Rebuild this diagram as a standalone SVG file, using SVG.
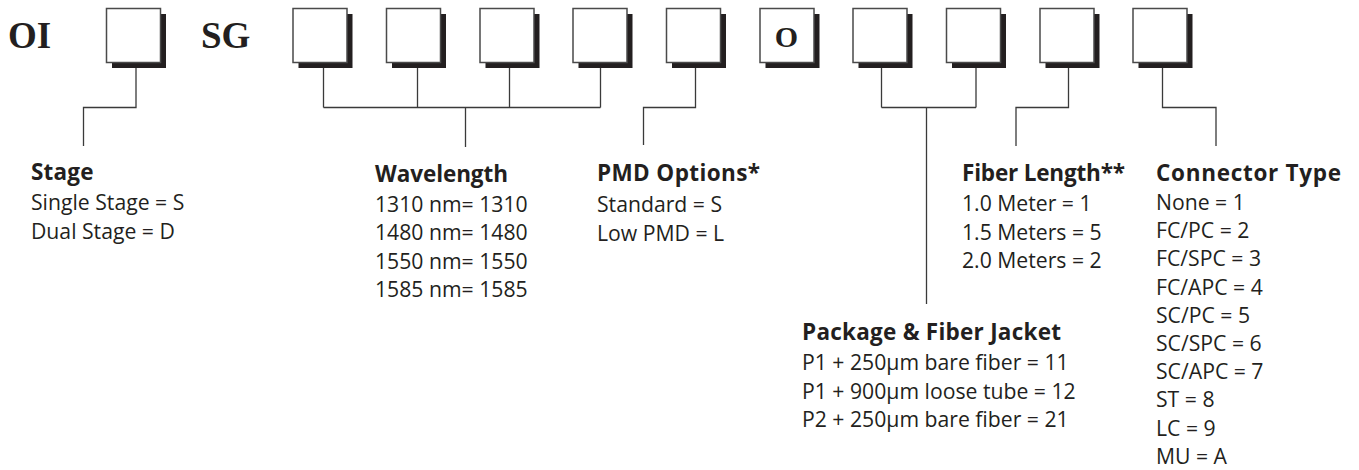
<svg xmlns="http://www.w3.org/2000/svg" width="1359" height="470" viewBox="0 0 1359 470">
<style>
.bg{fill:#ffffff}
.box{fill:#ffffff;stroke:#4a4a4a;stroke-width:1.5}
.sh{fill:#231f20}
.ln{fill:none;stroke:#3a3a3a;stroke-width:1.3}
.title{font-family:"Liberation Serif",serif;font-weight:bold;font-size:37px;fill:#231f20}
.bt{font-family:"Liberation Serif",serif;font-weight:bold;font-size:30px;fill:#231f20}
.h{font-family:"Open Sans","Noto Sans",sans-serif;font-weight:bold;font-size:22.5px;fill:#231f20}
.t{font-family:"Open Sans","Noto Sans",sans-serif;font-size:21.2px;fill:#231f20}
</style>
<defs>
<g id="bx">
<rect class="sh" x="5.5" y="5.5" width="54" height="54"/>
<rect class="box" x="0" y="0" width="54" height="54"/>
</g>
</defs>
<rect class="bg" x="0" y="0" width="1359" height="470"/>
<g id="labels">
<text class="title" x="8" y="48">OI</text>
<text class="title" x="201" y="48">SG</text>
</g>
<g id="box1"><use href="#bx" x="106.5" y="8.5"/></g>
<g id="box2"><use href="#bx" x="293" y="8.5"/></g>
<g id="box3"><use href="#bx" x="386.5" y="8.5"/></g>
<g id="box4"><use href="#bx" x="480" y="8.5"/></g>
<g id="box5"><use href="#bx" x="573" y="8.5"/></g>
<g id="box6"><use href="#bx" x="666.5" y="8.5"/></g>
<g id="box7"><use href="#bx" x="760" y="8.5"/><text class="bt" x="786.5" y="46.5" text-anchor="middle">O</text></g>
<g id="box8"><use href="#bx" x="853" y="8.5"/></g>
<g id="box9"><use href="#bx" x="946.5" y="8.5"/></g>
<g id="box10"><use href="#bx" x="1040" y="8.5"/></g>
<g id="box11"><use href="#bx" x="1133" y="8.5"/></g>
<g id="connectors">
<path class="ln" d="M136 68V107.5H83.5V146"/>
<path class="ln" d="M323.5 68V107.5M417.5 68V107.5M509.5 68V107.5M600.5 68V107.5M323.5 107.5H600.5M465.5 107.5V147"/>
<path class="ln" d="M695.5 68V107.5H643.5V145"/>
<path class="ln" d="M881.5 68V107.5M976 68V107.5M881.5 107.5H976M926.5 107.5V304"/>
<path class="ln" d="M1068.5 68V107.5H1016V146"/>
<path class="ln" d="M1162.5 68V107.5H1216V146"/>
</g>
<g id="stage">
<text class="h" x="31" y="180" textLength="62.5">Stage</text>
<text class="t" x="31" y="210">Single Stage = S</text>
<text class="t" x="31" y="239">Dual Stage = D</text>
</g>
<g id="wavelength">
<text class="h" x="375" y="181.5" textLength="133">Wavelength</text>
<text class="t" x="375" y="211.5">1310 nm= 1310</text>
<text class="t" x="375" y="240">1480 nm= 1480</text>
<text class="t" x="375" y="268.5">1550 nm= 1550</text>
<text class="t" x="375" y="297">1585 nm= 1585</text>
</g>
<g id="pmd">
<text class="h" x="597" y="180.5" textLength="163">PMD Options*</text>
<text class="t" x="597" y="211.5">Standard = S</text>
<text class="t" x="597" y="240.5">Low PMD = L</text>
</g>
<g id="package">
<text class="h" x="802" y="340" textLength="259">Package &amp; Fiber Jacket</text>
<text class="t" x="802" y="370">P1 + 250µm bare fiber = 11</text>
<text class="t" x="802" y="398.5">P1 + 900µm loose tube = 12</text>
<text class="t" x="802" y="427">P2 + 250µm bare fiber = 21</text>
</g>
<g id="fiber">
<text class="h" x="962" y="181" textLength="163">Fiber Length**</text>
<text class="t" x="962" y="211">1.0 Meter = 1</text>
<text class="t" x="962" y="239.5">1.5 Meters = 5</text>
<text class="t" x="962" y="268">2.0 Meters = 2</text>
</g>
<g id="connector">
<text class="h" x="1156" y="181" textLength="185">Connector Type</text>
<text class="t" x="1156" y="210">None = 1</text>
<text class="t" x="1156" y="238.2">FC/PC = 2</text>
<text class="t" x="1156" y="266.4">FC/SPC = 3</text>
<text class="t" x="1156" y="294.6">FC/APC = 4</text>
<text class="t" x="1156" y="322.8">SC/PC = 5</text>
<text class="t" x="1156" y="351">SC/SPC = 6</text>
<text class="t" x="1156" y="379.2">SC/APC = 7</text>
<text class="t" x="1156" y="407.4">ST = 8</text>
<text class="t" x="1156" y="435.6">LC = 9</text>
<text class="t" x="1156" y="463.8">MU = A</text>
</g>
</svg>
